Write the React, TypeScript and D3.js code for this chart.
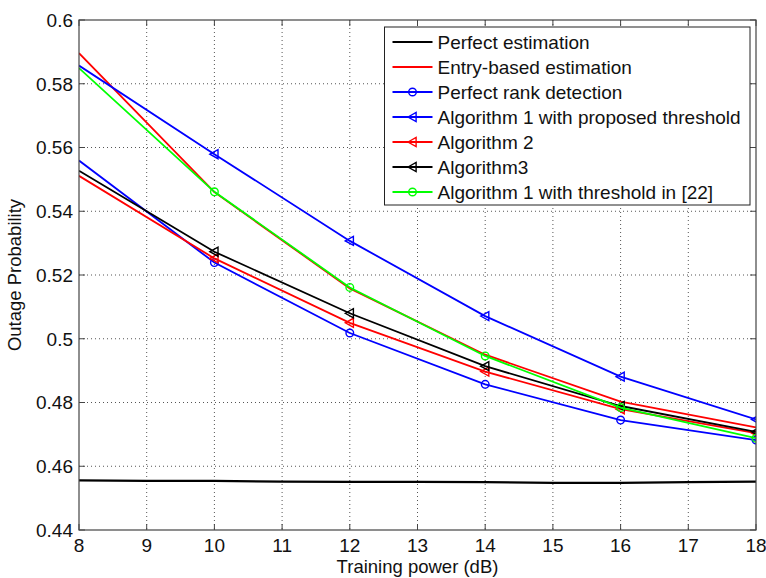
import React from "react";
import * as d3 from "d3";

const xTicks = [8, 9, 10, 11, 12, 13, 14, 15, 16, 17, 18];
const yTicks = [0.44, 0.46, 0.48, 0.5, 0.52, 0.54, 0.56, 0.58, 0.6];

const xPoints = [8, 10, 12, 14, 16, 18];
const perfectX = [8, 9, 10, 11, 12, 13, 14, 15, 16, 17, 18];
const perfectEstimation = [0.4556, 0.4554, 0.4554, 0.4552, 0.4551, 0.4551, 0.455, 0.4548, 0.4548, 0.455, 0.4552];
const entryBased = [0.5896, 0.546, 0.5158, 0.495, 0.4803, 0.4722];
const perfectRank = [0.5559, 0.5239, 0.5018, 0.4857, 0.4745, 0.4682];
const alg1Proposed = [0.5857, 0.5579, 0.5307, 0.5071, 0.4881, 0.4747];
const alg2 = [0.5511, 0.5252, 0.505, 0.4897, 0.4779, 0.4704];
const alg3 = [0.5527, 0.5273, 0.508, 0.4914, 0.4789, 0.4708];
const alg1Ref22 = [0.5849, 0.5461, 0.5161, 0.4946, 0.4784, 0.4688];

const legendLabels = [
  "Perfect estimation",
  "Entry-based estimation",
  "Perfect rank detection",
  "Algorithm 1 with proposed threshold",
  "Algorithm 2",
  "Algorithm3",
  "Algorithm 1 with threshold in [22]",
];

type Marker = "none" | "circle" | "triangle";
interface Series { label: string; xs: number[]; ys: number[]; color: string; marker: Marker; width: number }

const series: Series[] = [
  { label: legendLabels[0], xs: perfectX, ys: perfectEstimation, color: "#000000", marker: "none", width: 2.2 },
  { label: legendLabels[1], xs: xPoints, ys: entryBased, color: "#ff0000", marker: "none", width: 1.8 },
  { label: legendLabels[2], xs: xPoints, ys: perfectRank, color: "#0000ff", marker: "circle", width: 1.8 },
  { label: legendLabels[3], xs: xPoints, ys: alg1Proposed, color: "#0000ff", marker: "triangle", width: 1.8 },
  { label: legendLabels[4], xs: xPoints, ys: alg2, color: "#ff0000", marker: "triangle", width: 1.8 },
  { label: legendLabels[5], xs: xPoints, ys: alg3, color: "#000000", marker: "triangle", width: 1.8 },
  { label: legendLabels[6], xs: xPoints, ys: alg1Ref22, color: "#00ff00", marker: "circle", width: 1.8 },
];

const W = 766, H = 578;
const L = 79, R = 756, T = 20, B = 530;
const FONT = "'Liberation Sans', Arial, sans-serif";

function MarkerShape({ type, x, y, color }: { type: Marker; x: number; y: number; color: string }) {
  if (type === "circle") return <circle cx={x} cy={y} r={3.8} fill="none" stroke={color} strokeWidth={1.4} />;
  if (type === "triangle") {
    const s = 4.5;
    const pts = [[x - s, y], [x + s * 0.8, y - s], [x + s * 0.8, y + s]].map(p => p.join(",")).join(" ");
    return <polygon points={pts} fill="none" stroke={color} strokeWidth={1.4} />;
  }
  return null;
}

export default function App() {
  const x = d3.scaleLinear().domain([8, 18]).range([L, R]);
  const y = d3.scaleLinear().domain([0.44, 0.6]).range([B, T]);
  const line = d3.line<[number, number]>().x(d => x(d[0])).y(d => y(d[1]));

  const legX = 384.5, legY = 27, legW = 365.5, rowH = 25;
  const legH = rowH * legendLabels.length + 3;

  return (
    <svg width={W} height={H} style={{ position: "absolute", left: 0, top: 0, background: "#fff" }} fontFamily={FONT}>
      <defs>
        <clipPath id="plotclip"><rect x={L} y={T} width={R - L} height={B - T} /></clipPath>
      </defs>
      <rect x={0} y={0} width={W} height={H} fill="#fff" />
      {xTicks.slice(1, -1).map(t => (
        <line key={"gx" + t} x1={x(t)} x2={x(t)} y1={T} y2={B} stroke="#555" strokeWidth={1} strokeDasharray="1,3" />
      ))}
      {yTicks.slice(1, -1).map(t => (
        <line key={"gy" + t} x1={L} x2={R} y1={y(t)} y2={y(t)} stroke="#555" strokeWidth={1} strokeDasharray="1,3" />
      ))}
      <g clipPath="url(#plotclip)">
        {series.map((s, i) => (
          <g key={i}>
            <path d={line(s.xs.map((v, j) => [v, s.ys[j]] as [number, number])) || ""} fill="none" stroke={s.color} strokeWidth={s.width} />
            {s.marker !== "none" && s.xs.map((v, j) => j === 0 ? null : (
              <MarkerShape key={j} type={s.marker} x={x(v)} y={y(s.ys[j])} color={s.color} />
            ))}
          </g>
        ))}
      </g>
      <rect x={L} y={T} width={R - L} height={B - T} fill="none" stroke="#444" strokeWidth={1.2} />
      {xTicks.map(t => (
        <g key={"tx" + t}>
          <line x1={x(t)} x2={x(t)} y1={B} y2={B - 6} stroke="#444" />
          <line x1={x(t)} x2={x(t)} y1={T} y2={T + 6} stroke="#444" />
          <text x={x(t)} y={552} textAnchor="middle" fontSize={19} fill="#111">{t}</text>
        </g>
      ))}
      {yTicks.map(t => (
        <g key={"ty" + t}>
          <line x1={L} x2={L + 6} y1={y(t)} y2={y(t)} stroke="#444" />
          <line x1={R} x2={R - 6} y1={y(t)} y2={y(t)} stroke="#444" />
          <text x={73} y={y(t)} dy="0.36em" textAnchor="end" fontSize={19} fill="#111">{d3.format("")(+t.toFixed(2))}</text>
        </g>
      ))}
      <text x={(L + R) / 2} y={573} textAnchor="middle" fontSize={18.5} fill="#111">Training power (dB)</text>
      <text transform={`translate(21, ${(T + B) / 2}) rotate(-90)`} textAnchor="middle" fontSize={18.5} fill="#111">Outage Probability</text>
      <rect x={legX} y={legY} width={legW} height={legH} fill="#fff" stroke="#222" strokeWidth={1} />
      {series.map((s, i) => {
        const cy = legY + 15 + i * rowH;
        return (
          <g key={"lg" + i}>
            <line x1={legX + 8} x2={legX + 48} y1={cy} y2={cy} stroke={s.color} strokeWidth={s.width} />
            <MarkerShape type={s.marker} x={legX + 28} y={cy} color={s.color} />
            <text x={legX + 53} y={cy} dy="0.36em" fontSize={19} fill="#111">{s.label}</text>
          </g>
        );
      })}
    </svg>
  );
}
